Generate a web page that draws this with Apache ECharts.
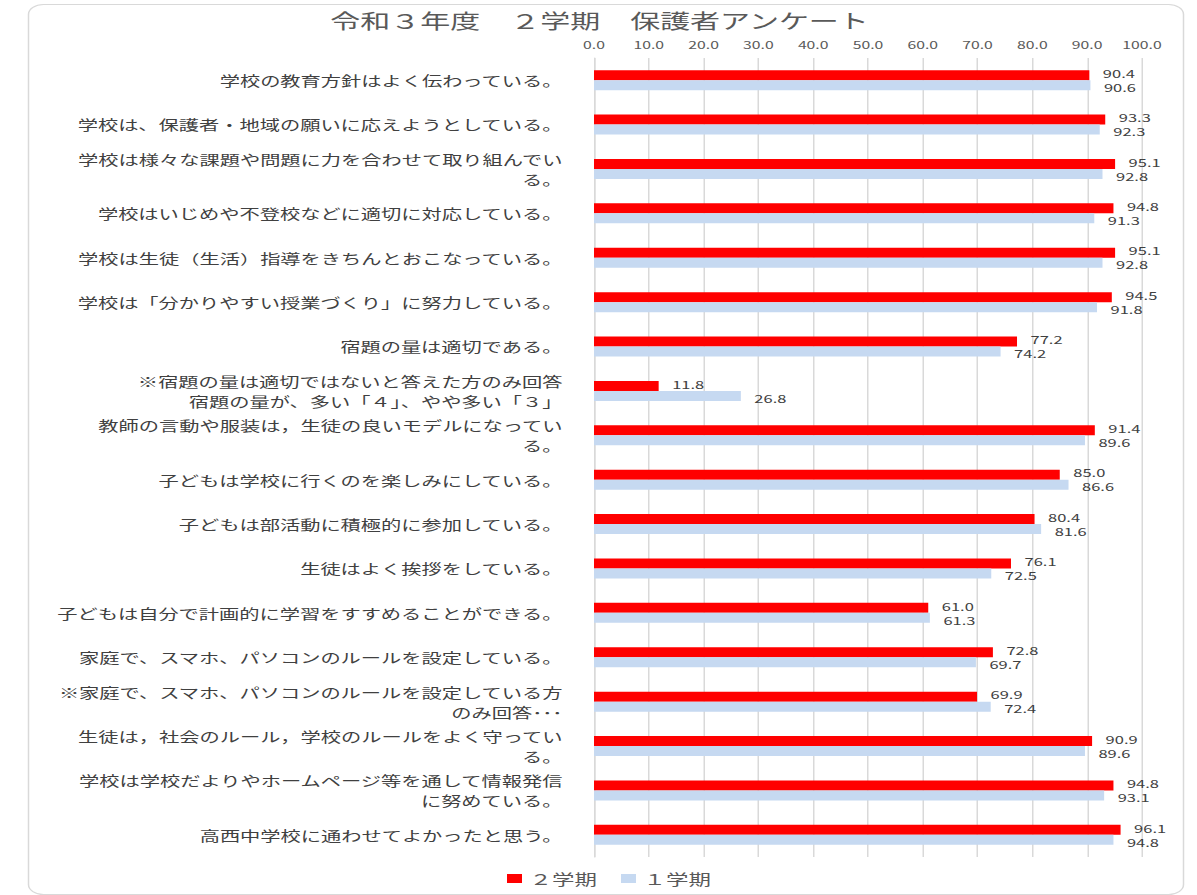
<!DOCTYPE html>
<html><head><meta charset="utf-8">
<script src="https://cdn.jsdelivr.net/npm/echarts@6/dist/echarts.min.js"></script>
<style>
html,body{margin:0;padding:0;background:#fff;overflow:hidden;}
#wrap{width:1197px;height:895px;overflow:hidden;}
#chart{width:798px;height:895px;transform:scaleX(1.5);transform-origin:0 0;}
</style></head>
<body><div id="wrap"><div id="chart"></div></div>
<script>
const titleText = '令和３年度　２学期　保護者アンケート';
const categories = [
  '学校の教育方針はよく伝わっている。',
  '学校は、保護者・地域の願いに応えようとしている。',
  '学校は様々な課題や問題に力を合わせて取り組んでい\nる。',
  '学校はいじめや不登校などに適切に対応している。',
  '学校は生徒（生活）指導をきちんとおこなっている。',
  '学校は「分かりやすい授業づくり」に努力している。',
  '宿題の量は適切である。',
  '※宿題の量は適切ではないと答えた方のみ回答\n宿題の量が、多い「４」、やや多い「３」',
  '教師の言動や服装は，生徒の良いモデルになってい\nる。',
  '子どもは学校に行くのを楽しみにしている。',
  '子どもは部活動に積極的に参加している。',
  '生徒はよく挨拶をしている。',
  '子どもは自分で計画的に学習をすすめることができる。',
  '家庭で、スマホ、パソコンのルールを設定している。',
  '※家庭で、スマホ、パソコンのルールを設定している方\nのみ回答･･･',
  '生徒は，社会のルール，学校のルールをよく守ってい\nる。',
  '学校は学校だよりやホームページ等を通して情報発信\nに努めている。',
  '高西中学校に通わせてよかったと思う。'
];
const seriesNames = ['２学期', '１学期'];
const term2 = [90.4, 93.3, 95.1, 94.8, 95.1, 94.5, 77.2, 11.8, 91.4, 85.0, 80.4, 76.1, 61.0, 72.8, 69.9, 90.9, 94.8, 96.1];
const term1 = [90.6, 92.3, 92.8, 91.3, 92.8, 91.8, 74.2, 26.8, 89.6, 86.6, 81.6, 72.5, 61.3, 69.7, 72.4, 89.6, 93.1, 94.8];
const xTicks = {min: 0, max: 100, interval: 10};

const FONT = '"Noto Sans CJK JP", "Noto Sans", sans-serif';
const chart = echarts.init(document.getElementById('chart'), null, {renderer: 'svg'});
function labelCfg(dy) {
  return {
    show: true, position: 'right', distance: 9, offset: [0, dy],
    color: '#404040', fontSize: 11, lineHeight: 11, fontFamily: FONT,
    formatter: p => p.value.toFixed(1)
  };
}
chart.setOption({
  backgroundColor: '#fff',
  animation: false,
  textStyle: {fontFamily: FONT},
  graphic: [{
    type: 'rect', left: 16.5, top: 2,
    shape: {width: 770, height: 890, r: 10},
    style: {fill: 'none', stroke: '#d9d9d9', lineWidth: 1},
    silent: true, z: -10
  }],
  title: {
    text: titleText, left: 394.7, textAlign: 'center', top: 5,
    textStyle: {fontSize: 20, fontWeight: 'normal', color: '#595959', fontFamily: FONT}
  },
  legend: {
    data: seriesNames, bottom: 4, left: 333,
    itemWidth: 10, itemHeight: 9, itemGap: 16,
    icon: 'rect',
    textStyle: {fontSize: 15, color: '#595959', fontFamily: FONT}
  },
  grid: {left: 396, right: 36.7, top: 58, bottom: 38, containLabel: false},
  xAxis: {
    type: 'value', position: 'top',
    min: xTicks.min, max: xTicks.max, interval: xTicks.interval,
    axisLine: {show: false}, axisTick: {show: false},
    axisLabel: {color: '#595959', fontSize: 10.5, margin: 8, formatter: v => v.toFixed(1), fontFamily: FONT},
    splitLine: {show: true, lineStyle: {color: '#d9d9d9', width: 1}}
  },
  yAxis: {
    type: 'category', inverse: true, data: categories,
    axisLine: {show: true, lineStyle: {color: '#d9d9d9'}},
    axisTick: {show: false},
    axisLabel: {color: '#404040', fontSize: 13.5, margin: 21, lineHeight: 20, align: 'right', fontFamily: FONT, interval: 0}
  },
  series: [
    {name: seriesNames[0], type: 'bar', data: term2, barWidth: 10, barGap: '0%',
     itemStyle: {color: '#ff0000'}, label: labelCfg(-2)},
    {name: seriesNames[1], type: 'bar', data: term1, barWidth: 10, barGap: '0%',
     itemStyle: {color: '#c6d9f1'}, label: labelCfg(2)}
  ]
});
</script></body></html>
